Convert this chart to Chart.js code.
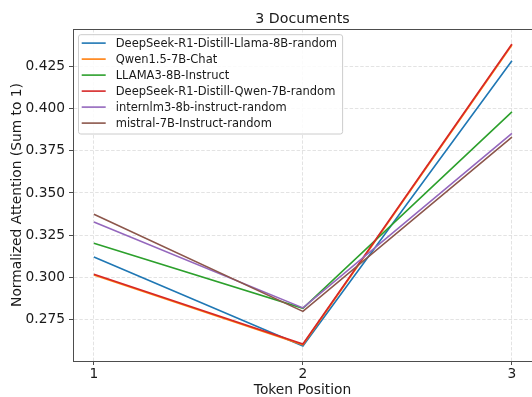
<!DOCTYPE html>
<html>
<head>
<meta charset="utf-8">
<script src="https://cdn.jsdelivr.net/npm/chart.js@4/dist/chart.umd.min.js"></script>
<style>
  html, body { margin: 0; padding: 0; background: #ffffff; }
  #chart { display: block; }
</style>
</head>
<body>
<canvas id="chart" width="532" height="397"></canvas>
<script>
// Token positions along the x axis
const positions = [1, 2, 3];

// Normalized attention per model (sums to 1 across the three positions)
const deepseekLlama = [0.3121, 0.2596, 0.4281];
const qwenChat      = [0.3015, 0.2603, 0.4374];
const llama3        = [0.3203, 0.2818, 0.3979];
const deepseekQwen  = [0.3019, 0.2607, 0.4380];
const internlm3     = [0.3329, 0.2821, 0.3852];
const mistral       = [0.3374, 0.2800, 0.3830];

const seriesNames = [
  'DeepSeek-R1-Distill-Llama-8B-random',
  'Qwen1.5-7B-Chat',
  'LLAMA3-8B-Instruct',
  'DeepSeek-R1-Distill-Qwen-7B-random',
  'internlm3-8b-instruct-random',
  'mistral-7B-Instruct-random'
];
const seriesValues = [deepseekLlama, qwenChat, llama3, deepseekQwen, internlm3, mistral];
const seriesColors = ['#1f77b4', '#ff7f0e', '#2ca02c', '#d62728', '#9467bd', '#8c564b'];

// Axis ticks
const xTicks = [1, 2, 3];
const xTickLabels = ['1', '2', '3'];
const yTicks = [0.275, 0.300, 0.325, 0.350, 0.375, 0.400, 0.425];
const yTickLabels = ['0.275', '0.300', '0.325', '0.350', '0.375', '0.400', '0.425'];

const FONT = "'DejaVu Sans', sans-serif";
const TEXT = '#1a1a1a';
const SPINE = '#4d4d4d';
const GRID = '#dcdcdc';
const BIG = 13.8;     // axis titles, tick labels
const TITLE = 14.2;   // chart title
const SMALL = 11.5;   // legend entries

const datasets = seriesNames.map((name, i) => ({
  label: name,
  data: positions.map((p, j) => ({ x: p, y: seriesValues[i][j] })),
  borderColor: seriesColors[i],
  backgroundColor: seriesColors[i],
  borderWidth: 1.6,
  pointRadius: 0,
  tension: 0,
  // later series are painted on top of earlier ones
  order: seriesNames.length - i
}));

// Top spine of the axes box
const frameTop = {
  id: 'frameTop',
  afterDatasetsDraw(chart) {
    const { ctx, chartArea: a } = chart;
    ctx.save();
    ctx.strokeStyle = SPINE;
    ctx.lineWidth = 1;
    ctx.beginPath();
    ctx.moveTo(a.left, a.top + 0.5);
    ctx.lineTo(a.right, a.top + 0.5);
    ctx.stroke();
    ctx.restore();
  }
};

// Framed legend in the upper-left corner of the plot area
const boxedLegend = {
  id: 'boxedLegend',
  afterDatasetsDraw(chart) {
    const { ctx, chartArea: a } = chart;
    ctx.save();
    ctx.font = SMALL + 'px ' + FONT;
    const textW = Math.max(...seriesNames.map(n => ctx.measureText(n).width));
    const x0 = a.left + 5.5;
    const y0 = a.top + 5.7;
    const rowH = 16;
    const w = 37.2 + textW + 5.6;
    const h = rowH * seriesNames.length + 3.3;
    const r = 2.3;
    ctx.beginPath();
    ctx.moveTo(x0 + r, y0);
    ctx.lineTo(x0 + w - r, y0);
    ctx.arcTo(x0 + w, y0, x0 + w, y0 + r, r);
    ctx.lineTo(x0 + w, y0 + h - r);
    ctx.arcTo(x0 + w, y0 + h, x0 + w - r, y0 + h, r);
    ctx.lineTo(x0 + r, y0 + h);
    ctx.arcTo(x0, y0 + h, x0, y0 + h - r, r);
    ctx.lineTo(x0, y0 + r);
    ctx.arcTo(x0, y0, x0 + r, y0, r);
    ctx.closePath();
    ctx.fillStyle = 'rgba(255,255,255,0.85)';
    ctx.fill();
    ctx.strokeStyle = '#cccccc';
    ctx.lineWidth = 1;
    ctx.stroke();
    seriesNames.forEach((name, i) => {
      const cy = y0 + 8.4 + i * rowH;
      ctx.strokeStyle = seriesColors[i];
      ctx.lineWidth = 1.6;
      ctx.beginPath();
      ctx.moveTo(x0 + 3.2, cy);
      ctx.lineTo(x0 + 27.2, cy);
      ctx.stroke();
      ctx.fillStyle = TEXT;
      ctx.textBaseline = 'alphabetic';
      ctx.textAlign = 'left';
      ctx.fillText(name, x0 + 37.2, cy + 4.2);
    });
    ctx.restore();
  }
};

new Chart(document.getElementById('chart'), {
  type: 'line',
  data: { datasets },
  plugins: [frameTop, boxedLegend],
  options: {
    responsive: false,
    animation: false,
    devicePixelRatio: 1,
    layout: { padding: { left: 0, right: 0, top: 0, bottom: 0 } },
    plugins: {
      legend: { display: false },
      tooltip: { enabled: false },
      title: {
        display: true,
        fullSize: false,
        text: '3 Documents',
        color: TEXT,
        font: { family: FONT, size: TITLE, weight: 'normal', lineHeight: 1.2 },
        padding: { top: 11, bottom: 0.96 }
      }
    },
    scales: {
      x: {
        type: 'linear',
        min: 0.9,
        max: 3.096,
        afterBuildTicks(scale) { scale.ticks = xTicks.map(v => ({ value: v })); },
        afterFit(scale) { scale.height = 36; },
        ticks: {
          color: TEXT,
          font: { family: FONT, size: BIG },
          padding: 1,
          maxRotation: 0,
          callback: (v, i) => xTickLabels[i]
        },
        grid: {
          color: GRID,
          lineWidth: 0.8,
          drawTicks: true,
          tickLength: 4,
          tickColor: SPINE,
          tickWidth: 1,
          tickBorderDash: []
        },
        border: { display: true, color: SPINE, width: 1, dash: [3.5, 1.8] },
        title: {
          display: true,
          text: 'Token Position',
          color: TEXT,
          font: { family: FONT, size: BIG, lineHeight: 1.2 },
          padding: { top: 0, bottom: -1.5 }
        }
      },
      y: {
        type: 'linear',
        min: 0.2507,
        max: 0.4469,
        afterBuildTicks(scale) { scale.ticks = yTicks.map(v => ({ value: v })); },
        afterFit(scale) { scale.width = 73; },
        ticks: {
          color: TEXT,
          font: { family: FONT, size: BIG },
          padding: 4,
          callback: (v, i) => yTickLabels[i]
        },
        grid: {
          color: GRID,
          lineWidth: 0.8,
          drawTicks: true,
          tickLength: 4,
          tickColor: SPINE,
          tickWidth: 1,
          tickBorderDash: []
        },
        border: { display: true, color: SPINE, width: 1, dash: [3.5, 1.8] },
        title: {
          display: true,
          text: 'Normalized Attention (Sum to 1)',
          color: TEXT,
          font: { family: FONT, size: BIG, lineHeight: 1.2 },
          padding: { top: 9.5, bottom: 0 }
        }
      }
    }
  }
});
</script>
</body>
</html>
